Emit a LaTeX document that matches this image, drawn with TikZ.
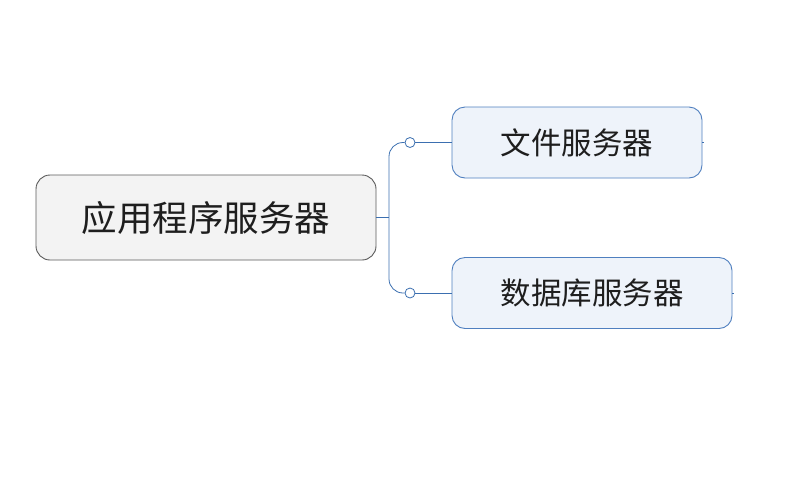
\documentclass[tikz,border=0pt]{standalone}
\usepackage{fontspec}
\newfontfamily\cjk{Noto Sans CJK SC}
\definecolor{rootfill}{HTML}{F3F3F3}
\definecolor{rootline}{HTML}{5A5A5A}
\definecolor{leaffill}{HTML}{EEF3FA}
\definecolor{leafline}{HTML}{4F7FBF}
\definecolor{branch}{HTML}{3B6FB0}
\definecolor{textdark}{HTML}{1E1E1E}

\begin{document}
\begin{tikzpicture}[x=1pt, y=-1pt,
    rootbox/.style={draw=rootline, fill=rootfill, line width=0.9pt,
        rounded corners=14pt, minimum width=340pt, minimum height=85pt,
        text=textdark, font=\cjk\fontsize{35.5}{40}\selectfont},
    leafbox/.style={draw=leafline, fill=leaffill, line width=0.9pt,
        rounded corners=13pt, minimum height=71pt,
        text=textdark, font=\cjk\fontsize{30.5}{36}\selectfont},
    conn/.style={draw=branch, line width=0.8pt},
    knob/.style={circle, draw=branch, fill=white, line width=0.8pt,
        inner sep=0pt, minimum size=10pt}]

    \useasboundingbox (0,0) rectangle (805,480);

    % --- Central topic ---
    \node[rootbox] (server) at (206,217.5) {应用程序服务器};

    % --- Sub topics ---
    \node[leafbox, minimum width=250pt] (fileserver) at (577,142.5) {文件服务器};
    \node[leafbox, minimum width=280pt] (dbserver) at (592,293) {数据库服务器};

    % --- Branches ---
    \coordinate (fork) at (389,217.5);
    \node[knob] (knobA) at (410,142.5) {};
    \node[knob] (knobB) at (410,293) {};

    \draw[conn] (server.east) -- (fork);
    \draw[conn, rounded corners=14pt] (fork) |- (knobA.west);
    \draw[conn, rounded corners=14pt] (fork) |- (knobB.west);
    \draw[conn] (knobA.east) -- (fileserver.west);
    \draw[conn] (knobB.east) -- (dbserver.west);

    % small stubs on the right side
    \coordinate (stubA) at ([xshift=2pt]fileserver.east);
    \coordinate (stubB) at ([xshift=2pt]dbserver.east);
    \draw[conn, line width=0.5pt] (fileserver.east) -- (stubA);
    \draw[conn, line width=0.5pt] (dbserver.east) -- (stubB);

\end{tikzpicture}
\end{document}
